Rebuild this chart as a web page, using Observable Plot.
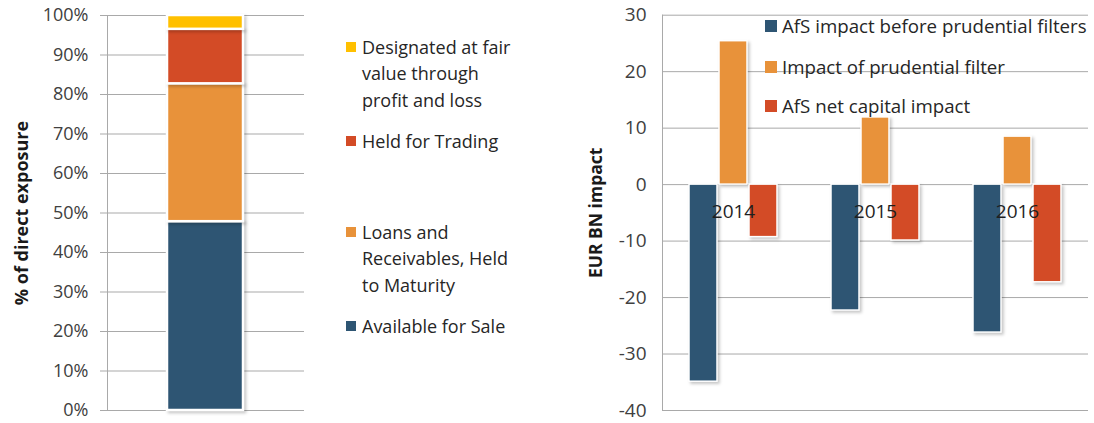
<!DOCTYPE html>
<html>
<head>
<meta charset="utf-8">
<script src="https://cdn.jsdelivr.net/npm/d3@7"></script>
<script src="https://cdn.jsdelivr.net/npm/@observablehq/plot@0.6"></script>
<style>
  html, body { margin: 0; padding: 0; background: #fff; }
  #wrap { position: relative; width: 1094px; height: 423px; overflow: hidden; font-family: "Open Sans", sans-serif; }
  #left { position: absolute; left: 0; top: 0; }
  #right { position: absolute; left: 580px; top: 0; }
  .leg { position: absolute; color: #262626; white-space: nowrap; }
  .sw { position: absolute; }
  .bars rect { filter: drop-shadow(2px 2px 1.5px rgba(0,0,0,0.22)); }
</style>
</head>
<body>
<div id="wrap">
  <div id="left"></div>
  <div id="right"></div>
  <div id="legL"></div>
  <div id="legR"></div>
</div>
<script>
// ---- Left panel data ----
const exposureCategories = [
  "Available for Sale",
  "Loans and Receivables, Held to Maturity",
  "Held for Trading",
  "Designated at fair value through profit and loss"
];
const exposureShares = [0.478, 0.349, 0.138, 0.035];
const exposureColors = ["#2E5573", "#E8923A", "#D34B26", "#FFC000"];
const pctTicks = [0, 0.1, 0.2, 0.3, 0.4, 0.5, 0.6, 0.7, 0.8, 0.9, 1.0];

// ---- Right panel data ----
const years = ["2014", "2015", "2016"];
const impactSeries = [
  "AfS impact before prudential filters",
  "Impact of prudential filter",
  "AfS net capital impact"
];
const afsBefore = [-34.9, -22.3, -26.2];
const prudentialFilter = [25.4, 11.9, 8.5];
const netImpact = [-9.3, -9.9, -17.3];
const impactColors = ["#2E5573", "#E8923A", "#D34B26"];
const impactTicks = [-40, -30, -20, -10, 0, 10, 20, 30];

const gridColor = "#a9a9a9";
const tickColor = "#404040";

// ---- Left chart ----
const leftData = exposureCategories.map((c, i) => ({group: "all", cat: c, share: exposureShares[i]}));
const left = Plot.plot({
  width: 320, height: 423,
  marginLeft: 107, marginRight: 16, marginTop: 15, marginBottom: 13,
  style: {fontFamily: "Open Sans", fontSize: "18px", color: tickColor, background: "transparent", overflow: "visible"},
  x: {domain: ["all"], padding: 0.438, axis: null},
  y: {domain: [0, 1]},
  color: {domain: exposureCategories, range: exposureColors},
  marks: [
    Plot.gridY(pctTicks, {stroke: gridColor, strokeOpacity: 1}),
    Plot.frame({anchor: "left", stroke: gridColor}),
    Plot.axisY(pctTicks, {tickSize: 7, tickPadding: 12, stroke: gridColor, fill: tickColor, tickFormat: d3.format(".0%"), label: null}),
    Plot.barY(leftData, {x: "group", y: "share", fill: "cat", stroke: "white", strokeWidth: 2.5, className: "bars"}),
    Plot.text(["% of direct exposure"], {frameAnchor: "left", rotate: -90, dx: -85, textAnchor: "middle", fontWeight: "bold", fontSize: 18, fill: "#1a1a1a"})
  ]
});
document.getElementById("left").appendChild(left);

// ---- Right chart ----
const impactData = years.flatMap((yr, i) => [
  {year: yr, series: impactSeries[0], value: afsBefore[i]},
  {year: yr, series: impactSeries[1], value: prudentialFilter[i]},
  {year: yr, series: impactSeries[2], value: netImpact[i]}
]);
const hyphenFormat = d => (d < 0 ? "-" + Math.abs(d) : String(d));
const right = Plot.plot({
  width: 514, height: 423,
  marginLeft: 81, marginRight: 5, marginTop: 14.7, marginBottom: 13,
  style: {fontFamily: "Open Sans", fontSize: "19px", color: tickColor, background: "transparent", overflow: "visible"},
  fx: {domain: years, padding: 0, axis: null},
  x: {domain: impactSeries, paddingInner: 0.065, paddingOuter: 0.83, axis: null},
  y: {domain: [-40, 30]},
  color: {domain: impactSeries, range: impactColors},
  marks: [
    Plot.gridY(impactTicks, {stroke: gridColor, strokeOpacity: 1}),
    Plot.frame({anchor: "left", stroke: gridColor, facetAnchor: "left"}),
    Plot.axisY(impactTicks, {tickSize: 0, tickPadding: 16, fill: tickColor, tickFormat: hyphenFormat, label: null}),
    Plot.barY(impactData, {fx: "year", x: "series", y: "value", fill: "series", stroke: "white", strokeWidth: 1.5, className: "bars"}),
    Plot.text(years, {fx: d => d, y: () => 0, text: d => d, dy: 27, fontSize: 19, fill: "#1f1f1f"}),
    Plot.text(["EUR BN impact"], {frameAnchor: "left", rotate: -90, dx: -66, textAnchor: "middle", fontWeight: "bold", fontSize: 17.5, fill: "#1a1a1a", facetAnchor: "left"})
  ]
});
document.getElementById("right").appendChild(right);

// ---- Legends (HTML) ----
const legL = document.getElementById("legL");
const leftLegend = [
  {i: 3, lines: ["Designated at fair", "value through", "profit and loss"], cy: 47},
  {i: 2, lines: ["Held for Trading"], cy: 141},
  {i: 1, lines: ["Loans and", "Receivables, Held", "to Maturity"], cy: 232},
  {i: 0, lines: ["Available for Sale"], cy: 326}
];
const lh = 26.5;
leftLegend.forEach(item => {
  const sw = document.createElement("div");
  sw.className = "sw";
  Object.assign(sw.style, {left: "346px", top: (item.cy - 5) + "px", width: "10px", height: "10px", background: exposureColors[item.i]});
  legL.appendChild(sw);
  const t = document.createElement("div");
  t.className = "leg";
  Object.assign(t.style, {left: "362px", top: (item.cy - lh / 2) + "px", fontSize: "18px", lineHeight: lh + "px"});
  t.innerHTML = item.lines.join("<br>");
  legL.appendChild(t);
});

const legR = document.getElementById("legR");
const rightCy = [26, 67, 106];
impactSeries.forEach((s, i) => {
  const sw = document.createElement("div");
  sw.className = "sw";
  Object.assign(sw.style, {left: "765px", top: (rightCy[i] - 6) + "px", width: "12px", height: "12px", background: impactColors[i]});
  legR.appendChild(sw);
  const t = document.createElement("div");
  t.className = "leg";
  Object.assign(t.style, {left: "782px", top: (rightCy[i] - 15) + "px", fontSize: "18.7px", lineHeight: "30px"});
  t.textContent = s;
  legR.appendChild(t);
});
</script>
</body>
</html>
